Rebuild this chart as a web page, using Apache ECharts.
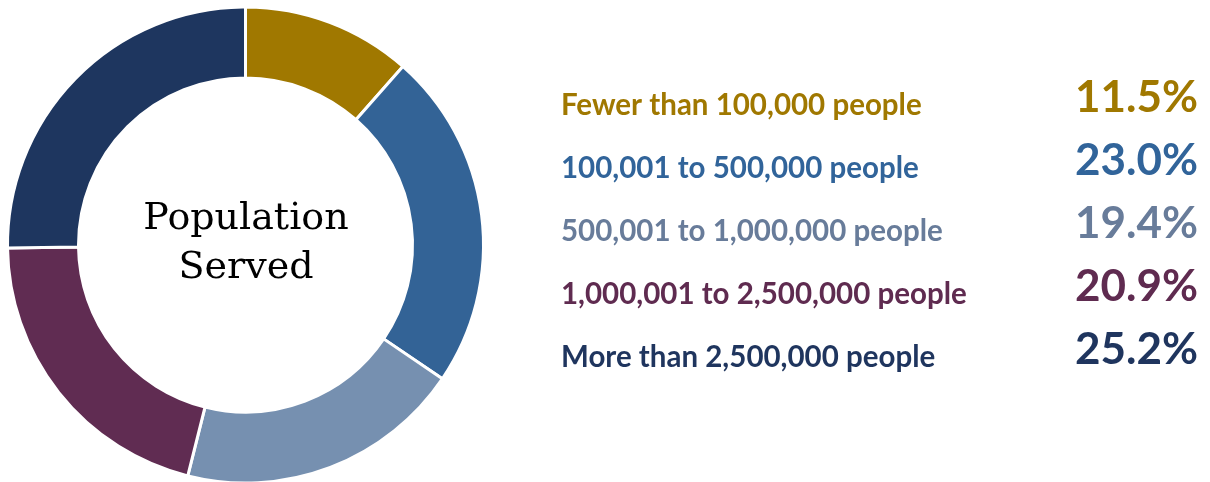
<!DOCTYPE html>
<html>
<head>
<meta charset="utf-8">
<script src="https://cdn.jsdelivr.net/npm/echarts@6/dist/echarts.min.js"></script>
<style>html,body{margin:0;padding:0;background:#fff;}#main{width:1210px;height:482px;}</style>
</head>
<body>
<div id="main"></div>
<script>
const categories = [
  'Fewer than 100,000 people',
  '100,001 to 500,000 people',
  '500,001 to 1,000,000 people',
  '1,000,001 to 2,500,000 people',
  'More than 2,500,000 people'
];
const values = [11.5, 23.0, 19.4, 20.9, 25.2];
const sliceColors = ['#A07800', '#336396', '#7690B0', '#602C52', '#1E365F'];
const textColors = ['#A07800', '#31649A', '#687C9A', '#5F2B50', '#1F355E'];
const centerTitle = 'Population\nServed';

const chart = echarts.init(document.getElementById('main'));
const pctOf = {};
categories.forEach((c, i) => { pctOf[c] = values[i].toFixed(1) + '%'; });

chart.setOption({
  animation: false,
  legend: {
    orient: 'vertical',
    left: 551,
    top: 71,
    icon: 'none',
    itemWidth: 0,
    itemHeight: 0,
    itemGap: 19,
    selectedMode: false,
    data: categories.map((c, i) => ({ name: c, textStyle: { color: textColors[i] } })),
    formatter: name => '{n|' + name + '}{v|' + pctOf[name] + '}',
    textStyle: {
      rich: {
        n: { fontFamily: 'Lato', fontWeight: 'bold', fontSize: 29.5, width: 507, lineHeight: 31, verticalAlign: 'bottom' },
        v: { fontFamily: 'Lato', fontWeight: 'bold', fontSize: 44, width: 130, align: 'right', lineHeight: 46, verticalAlign: 'bottom' }
      }
    }
  },
  graphic: [{
    type: 'text',
    x: 246,
    y: 244,
    style: {
      text: centerTitle,
      fontFamily: 'DejaVu Serif',
      fontSize: 38,
      lineHeight: 49,
      fill: '#000',
      align: 'center',
      verticalAlign: 'middle'
    }
  }],
  series: [{
    type: 'pie',
    center: [245.5, 245],
    radius: [167, 238],
    startAngle: 90,
    clockwise: true,
    label: { show: false },
    labelLine: { show: false },
    emphasis: { disabled: true },
    itemStyle: { borderColor: '#fff', borderWidth: 3 },
    data: categories.map((c, i) => ({ name: c, value: values[i], itemStyle: { color: sliceColors[i] } }))
  }]
});
</script>
</body>
</html>
